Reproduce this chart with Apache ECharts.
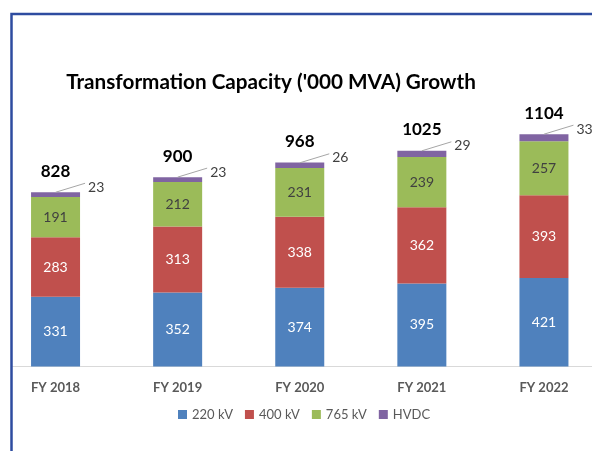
<!DOCTYPE html>
<html>
<head>
<meta charset="utf-8">
<script src="https://cdn.jsdelivr.net/npm/echarts@6/dist/echarts.min.js"></script>
<style>
  html, body { margin: 0; padding: 0; background: #fff; }
  #chart { width: 592px; height: 451px; }
</style>
</head>
<body>
<div id="chart"></div>
<script>
// Fiscal years on the category axis
const years = ['FY 2018', 'FY 2019', 'FY 2020', 'FY 2021', 'FY 2022'];

// Transformation capacity by voltage class ('000 MVA)
const kv220 = [331, 352, 374, 395, 421];
const kv400 = [283, 313, 338, 362, 393];
const kv765 = [191, 212, 231, 239, 257];
const hvdc  = [23, 23, 26, 29, 33];

// Reported totals per year
const totals = [828, 900, 968, 1025, 1104];

const seriesNames = ['220 kV', '400 kV', '765 kV', 'HVDC'];
const colors = ['#4F81BD', '#C0504D', '#9BBB59', '#8064A2'];

const FONT = 'Lato, "Open Sans", sans-serif';
const BAR_W = 49;

const chart = echarts.init(document.getElementById('chart'), null, { renderer: 'canvas' });

function stackSeries(name, data, color, labelColor) {
  return {
    name: name,
    type: 'bar',
    stack: 'cap',
    data: data,
    barWidth: BAR_W,
    itemStyle: { color: color },
    label: {
      show: name !== 'HVDC',
      position: 'inside',
      color: labelColor,
      fontFamily: FONT,
      fontSize: 14
    },
    emphasis: { disabled: true }
  };
}

const option = {
  animation: false,
  backgroundColor: '#ffffff',
  title: {
    text: "Transformation Capacity ('000 MVA) Growth",
    left: 266,
    top: 67,
    textAlign: 'center',
    textStyle: { fontFamily: FONT, fontSize: 20.7, fontWeight: 'bold', color: '#000000' }
  },
  legend: {
    data: seriesNames,
    left: 173,
    top: 403,
    itemWidth: 9,
    itemHeight: 9,
    itemGap: 12,
    icon: 'rect',
    textStyle: { fontFamily: FONT, fontSize: 13, color: '#595959' }
  },
  grid: {
    left: -5.5, right: -13, top: 114, bottom: 84.5,
    containLabel: false,
    outerBoundsMode: 'none'
  },
  xAxis: {
    type: 'category',
    data: years,
    axisLine: { show: true, lineStyle: { color: '#D9D9D9', width: 1 } },
    axisTick: { show: false },
    axisLabel: { fontFamily: FONT, fontSize: 13, fontWeight: 'bold', color: '#595959', margin: 15 }
  },
  yAxis: {
    type: 'value',
    min: 0,
    max: 1200,
    show: false,
    splitLine: { show: false }
  },
  series: [
    stackSeries('220 kV', kv220, colors[0], '#ffffff'),
    stackSeries('400 kV', kv400, colors[1], '#ffffff'),
    stackSeries('765 kV', kv765, colors[2], '#404040'),
    stackSeries('HVDC', hvdc, colors[3], '#404040'),
    {
      // Total above each column plus the HVDC value on a leader line
      name: 'annotations',
      type: 'custom',
      data: years.map((_, i) => [i, totals[i], hvdc[i]]),
      encode: { x: 0, y: 1 },
      z: 5,
      silent: true,
      renderItem: function (params, api) {
        const top = api.coord([api.value(0), api.value(1)]);
        const cx = top[0];
        const cy = top[1];
        const right = cx + BAR_W / 2;
        return {
          type: 'group',
          children: [
            {
              type: 'text',
              style: {
                text: String(api.value(1)),
                x: cx,
                y: cy - 21,
                align: 'center',
                verticalAlign: 'middle',
                fontFamily: FONT,
                fontSize: 17,
                fontWeight: 'bold',
                fill: '#000000'
              }
            },
            {
              type: 'line',
              shape: { x1: cx, y1: cy, x2: right + 5, y2: cy - 9 },
              style: { stroke: '#A6A6A6', lineWidth: 1 }
            },
            {
              type: 'text',
              style: {
                text: String(api.value(2)),
                x: right + 8,
                y: cy - 5,
                align: 'left',
                verticalAlign: 'middle',
                fontFamily: FONT,
                fontSize: 14,
                fill: '#404040'
              }
            }
          ]
        };
      }
    }
  ],
  graphic: [
    {
      type: 'rect',
      z: 100,
      shape: { x: 0, y: 0, width: 11, height: 451 },
      style: { fill: '#ffffff' }
    },
    {
      type: 'rect',
      z: 101,
      shape: { x: 11.5, y: 14, width: 700, height: 600 },
      style: { fill: 'none', stroke: '#2E4CA0', lineWidth: 2.5 }
    }
  ]
};

chart.setOption(option);
</script>
</body>
</html>
